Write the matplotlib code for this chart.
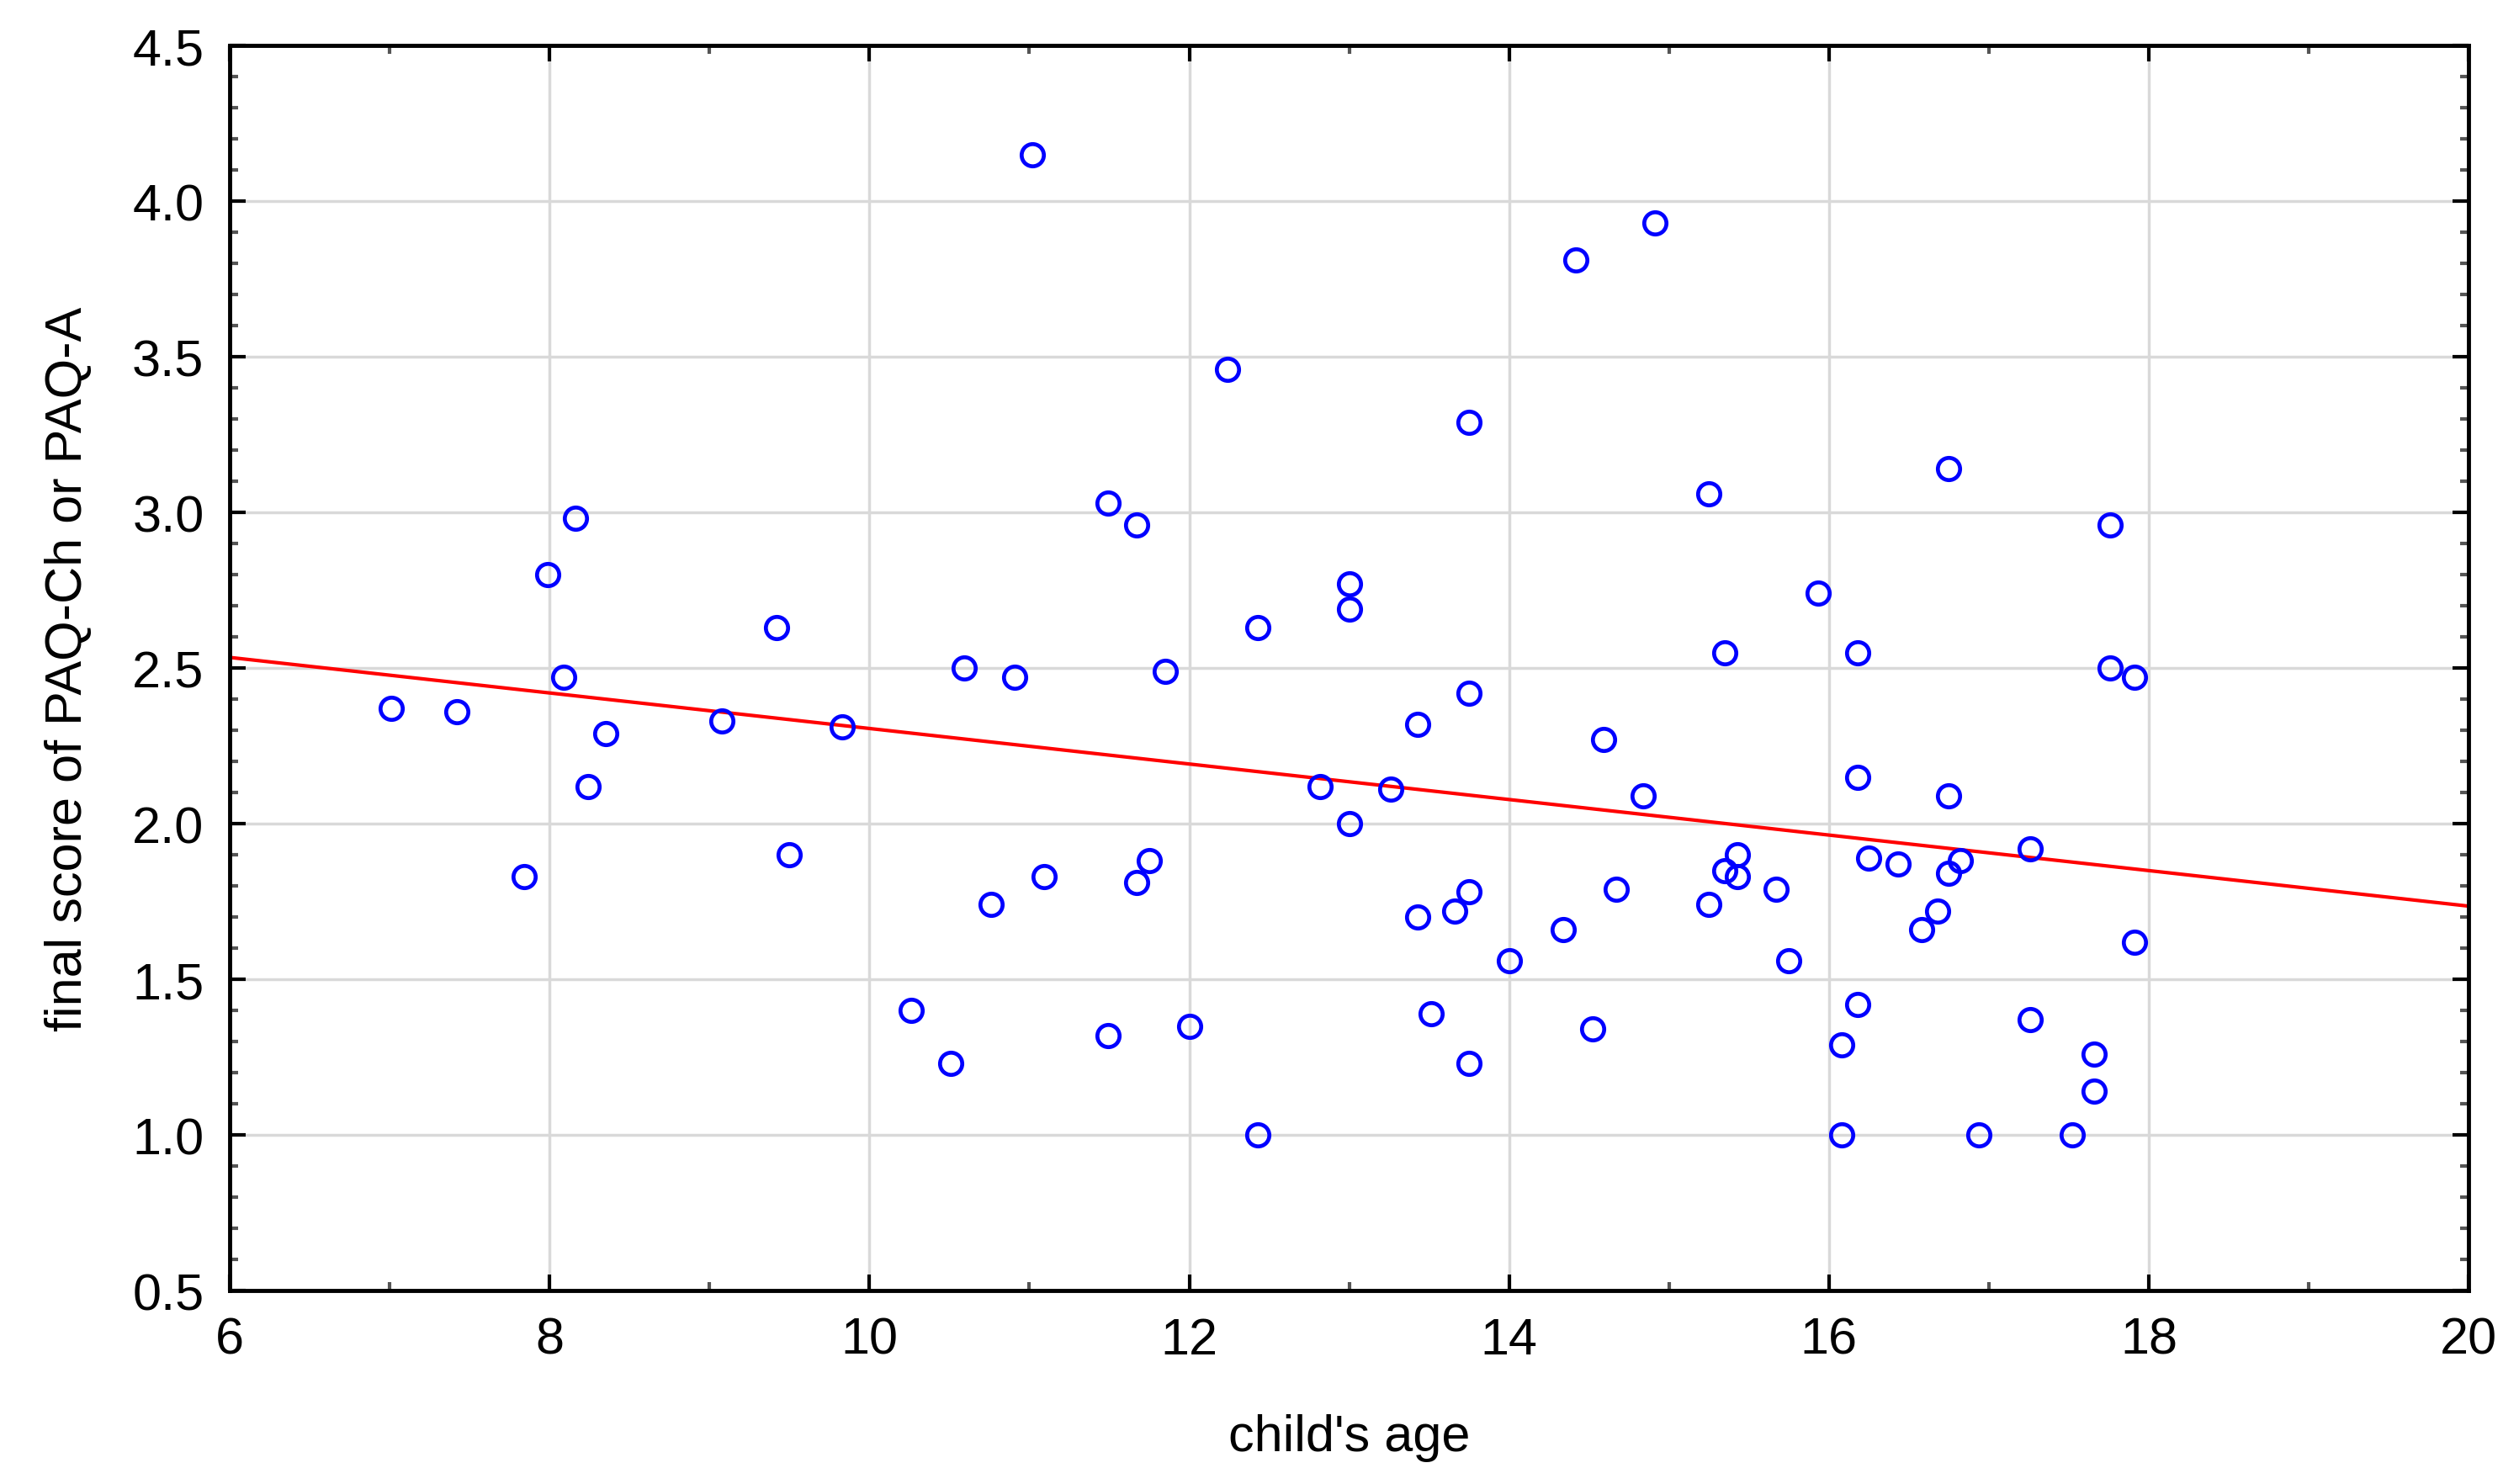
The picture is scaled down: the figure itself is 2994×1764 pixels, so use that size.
import numpy as np
import matplotlib
matplotlib.use('Agg')
import matplotlib.pyplot as plt
from matplotlib.ticker import MultipleLocator

plt.rcParams['font.family'] = ['Liberation Sans', 'DejaVu Sans']

# child's age vs final PAQ score
age = [7.01, 7.42, 7.84, 7.99, 8.16, 8.09, 8.24, 8.35, 9.08, 9.42,
       9.50, 9.83, 10.26, 10.51, 10.59, 10.76, 10.91, 11.02, 11.09, 11.49,
       11.49, 11.67, 11.67, 11.75, 11.85, 12.00, 12.24, 12.43, 12.43, 12.82,
       13.00, 13.00, 13.00, 13.26, 13.43, 13.43, 13.51, 13.66, 13.75, 13.75,
       13.75, 13.75, 14.00, 14.34, 14.42, 14.52, 14.59, 14.67, 14.84, 14.91,
       15.25, 15.25, 15.35, 15.35, 15.43, 15.43, 15.67, 15.75, 15.93, 16.08,
       16.08, 16.18, 16.18, 16.18, 16.25, 16.43, 16.58, 16.68, 16.75, 16.75,
       16.75, 16.82, 16.94, 17.26, 17.26, 17.52, 17.66, 17.66, 17.76, 17.76,
       17.91, 17.91]
score = [2.37, 2.36, 1.83, 2.80, 2.98, 2.47, 2.12, 2.29, 2.33, 2.63,
         1.90, 2.31, 1.40, 1.23, 2.50, 1.74, 2.47, 4.15, 1.83, 3.03,
         1.32, 2.96, 1.81, 1.88, 2.49, 1.35, 3.46, 2.63, 1.00, 2.12,
         2.77, 2.69, 2.00, 2.11, 2.32, 1.70, 1.39, 1.72, 3.29, 2.42,
         1.78, 1.23, 1.56, 1.66, 3.81, 1.34, 2.27, 1.79, 2.09, 3.93,
         3.06, 1.74, 2.55, 1.85, 1.90, 1.83, 1.79, 1.56, 2.74, 1.29,
         1.00, 2.55, 2.15, 1.42, 1.89, 1.87, 1.66, 1.72, 3.14, 2.09,
         1.84, 1.88, 1.00, 1.92, 1.37, 1.00, 1.26, 1.14, 2.96, 2.50,
         2.47, 1.62]

# fitted line endpoints
fit_x = [6, 20]
fit_y = [2.534, 1.735]

fig = plt.figure(figsize=(29.94, 17.65), dpi=100)
ax = fig.add_axes([0.0912, 0.1303, 0.8888, 0.8385])

ax.plot(fit_x, fit_y, color='#ff0000', lw=3, zorder=2)
ax.plot(age, score, 'o', mfc='none', mec='#0000ff', ms=19, mew=3.4, zorder=3,
        clip_on=False)

ax.set_xlim(6, 20)
ax.set_ylim(0.5, 4.5)
ax.xaxis.set_major_locator(MultipleLocator(2))
ax.xaxis.set_minor_locator(MultipleLocator(1))
ax.yaxis.set_major_locator(MultipleLocator(0.5))
ax.yaxis.set_minor_locator(MultipleLocator(0.1))
ax.yaxis.set_major_formatter(matplotlib.ticker.FormatStrFormatter('%.1f'))

ax.grid(True, which='major', color='#d9d9d9', lw=2.5, zorder=0)
ax.set_axisbelow(True)
for s in ax.spines.values():
    s.set_linewidth(3.5)
    s.set_color('black')

ax.tick_params(which='both', direction='in', top=True, right=True,
               labelsize=44, colors='black', width=3)
ax.tick_params(which='major', length=14, pad=22)
ax.tick_params(which='minor', length=7, color='#555555')

ax.set_xlabel("child's age", fontsize=44, labelpad=42)
ax.set_ylabel('final score of PAQ-Ch or PAQ-A', fontsize=44, labelpad=34)

fig.savefig('out.png', dpi=100)
